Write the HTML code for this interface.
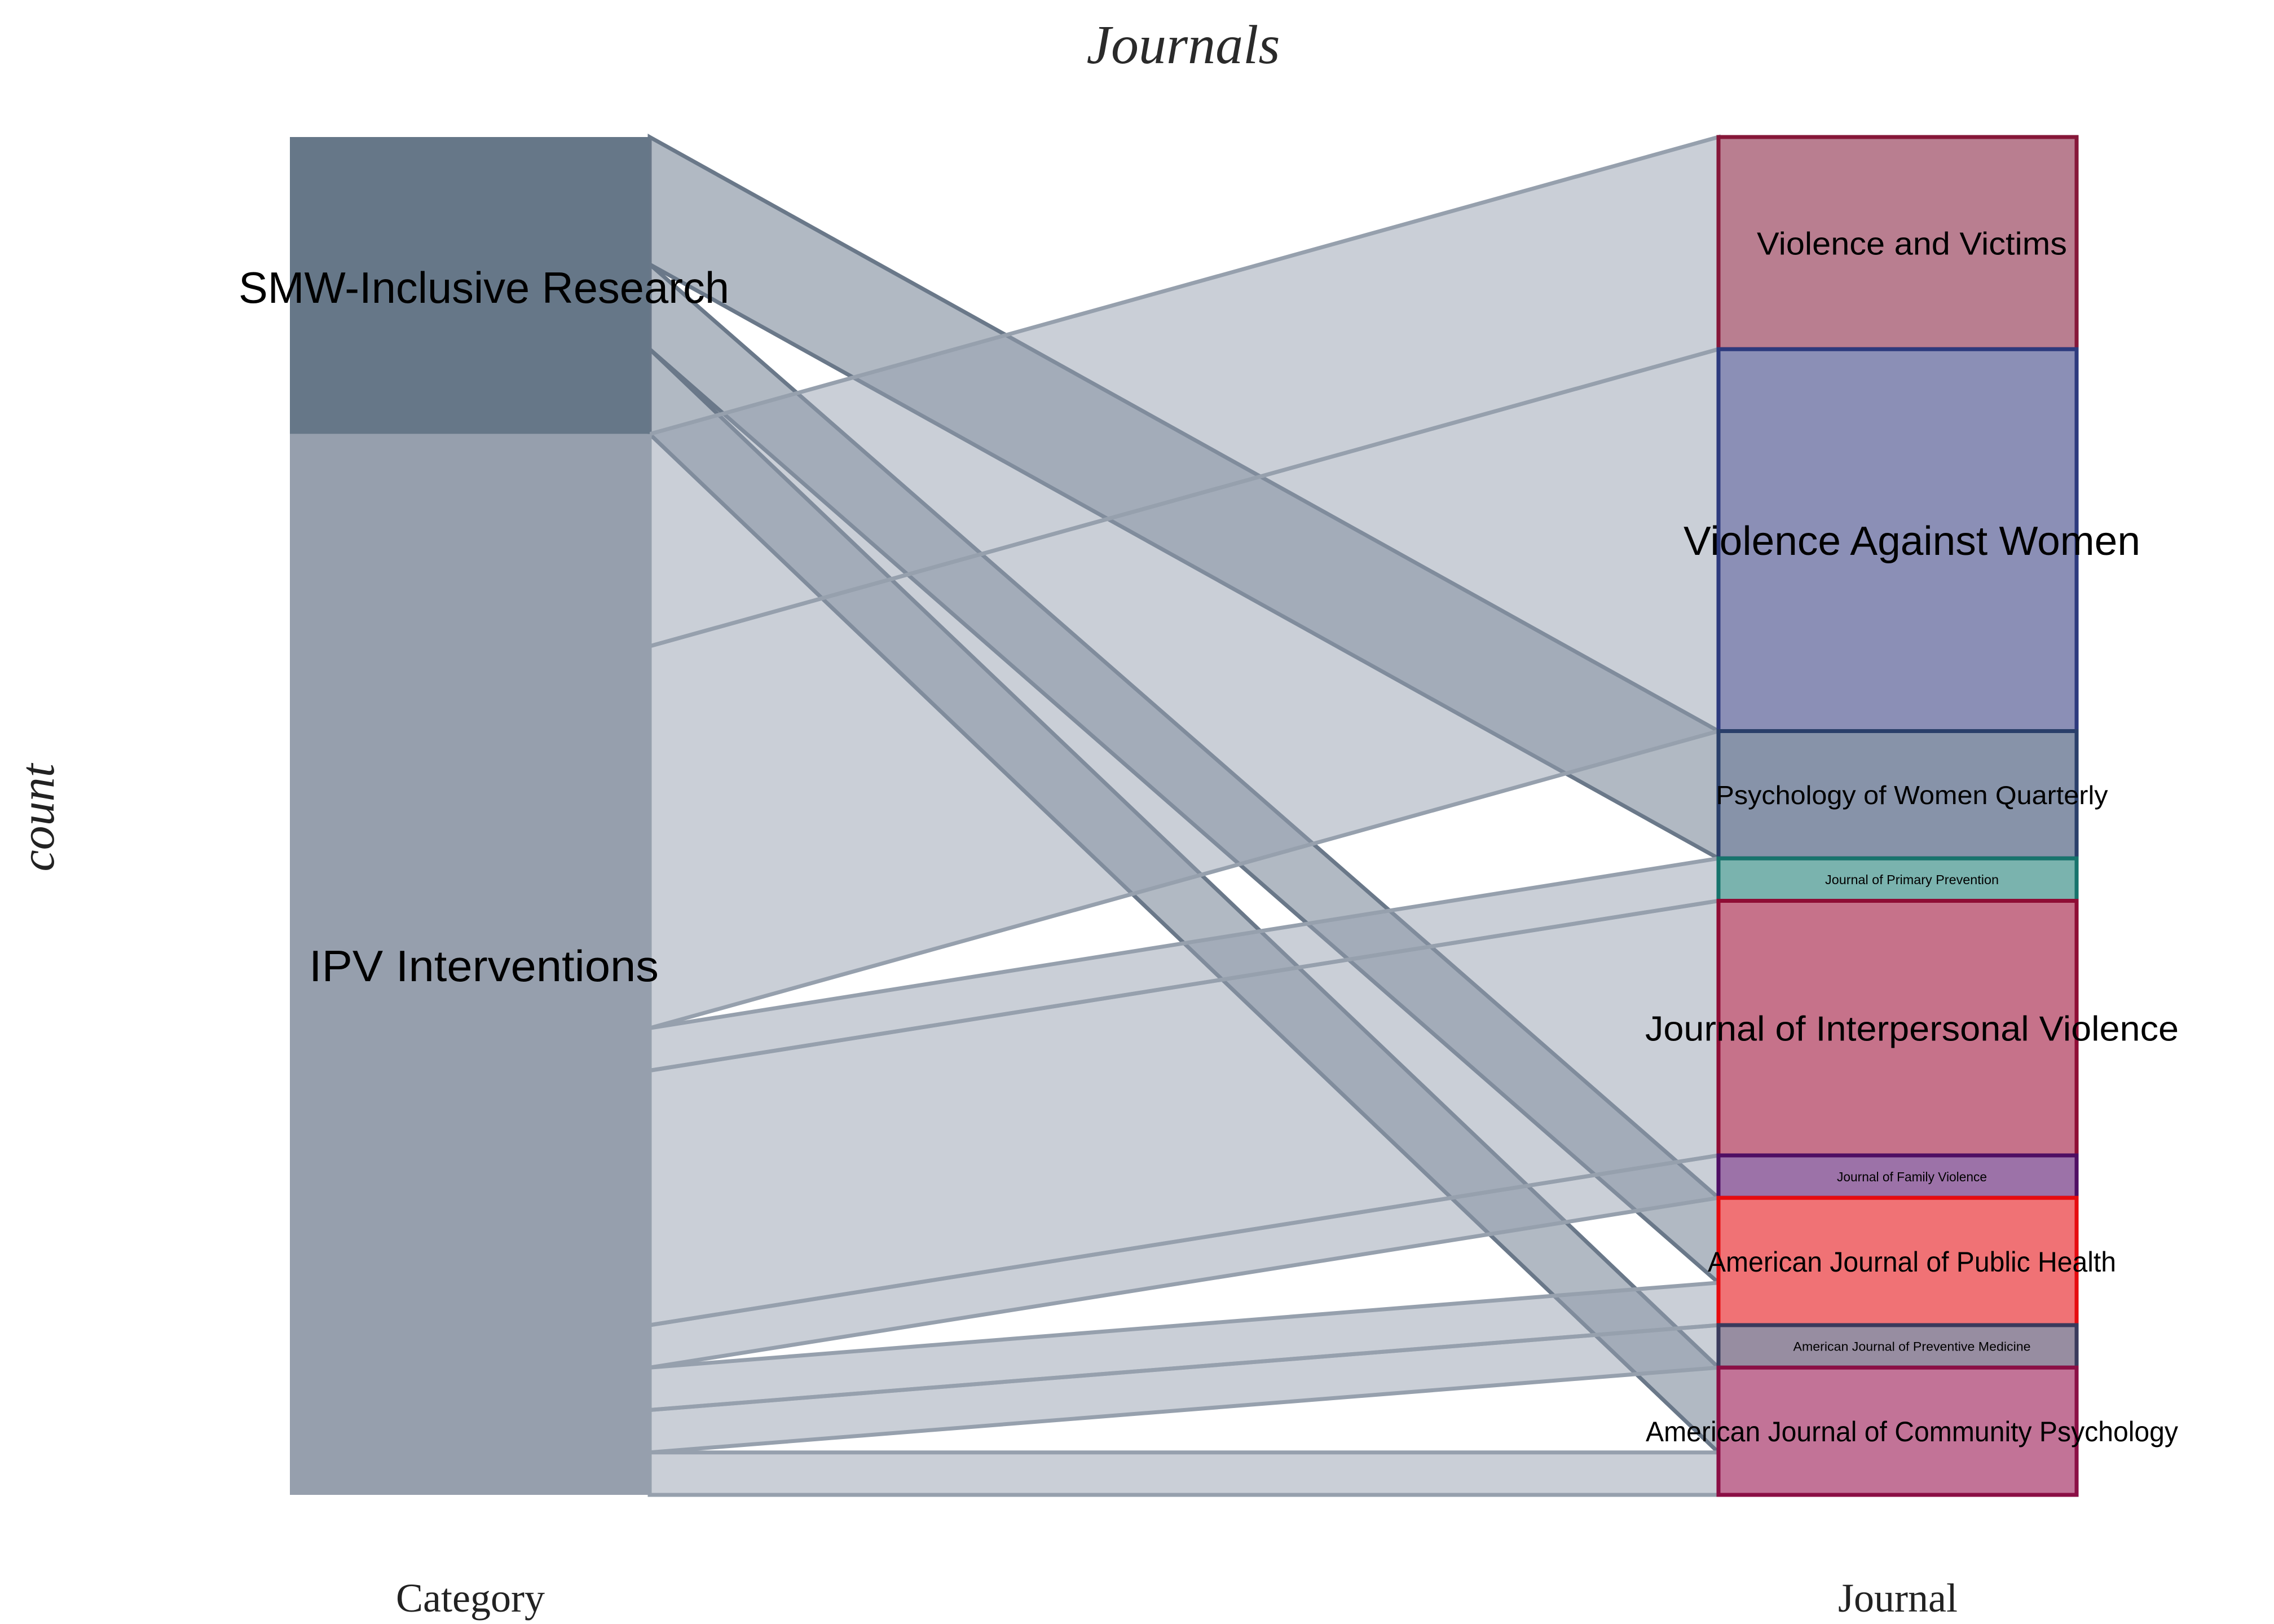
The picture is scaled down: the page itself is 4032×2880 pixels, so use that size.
<!DOCTYPE html>
<html><head><meta charset="utf-8"><style>
html,body{margin:0;padding:0;background:#fff;}
svg{display:block;}
</style></head><body>
<svg id="chart" width="4032" height="2880" viewBox="0 0 4032 2880" xmlns="http://www.w3.org/2000/svg">
<text x="2098" y="112" text-anchor="middle" font-family="Liberation Serif, serif" font-style="italic" font-size="98" fill="#2a2a2a">Journals</text>
<text transform="translate(95,1450) rotate(-90)" text-anchor="middle" font-family="Liberation Serif, serif" font-style="italic" font-size="86" fill="#222">count</text>
<text x="834" y="2858" text-anchor="middle" font-family="Liberation Serif, serif" font-size="72" fill="#222">Category</text>
<text x="3365" y="2858" text-anchor="middle" font-family="Liberation Serif, serif" font-size="72" fill="#222">Journal</text>
<g id="links"></g>
<g id="nodes"></g>
<g id="labels"></g>
</svg>
<script>
const sources = ["SMW-Inclusive Research", "IPV Interventions"];
const targets = ["Violence and Victims","Violence Against Women","Psychology of Women Quarterly","Journal of Primary Prevention","Journal of Interpersonal Violence","Journal of Family Violence","American Journal of Public Health","American Journal of Preventive Medicine","American Journal of Community Psychology"];
const smwCounts = [0,0,3,0,0,0,2,0,2];
const ipvCounts = [5,9,0,1,6,1,1,1,1];

const NS = "http://www.w3.org/2000/svg";
const gL = document.getElementById('links'), gN = document.getElementById('nodes'), gT = document.getElementById('labels');
const TOP = 243, BOTTOM = 2651, LX0 = 514, LX1 = 1152, RX0 = 3047, RX1 = 3682;
const total = smwCounts.reduce((a,b)=>a+b,0) + ipvCounts.reduce((a,b)=>a+b,0);
const unit = (BOTTOM - TOP) / total;
function y(v){ return TOP + v * unit; }

const srcFill = ["#667788","#969fad"];
const tFill = ["#b97e90","#8b8fb6","#8793a9","#7ab3ae","#c6728a","#9c72a8","#f07275","#978da1","#c27397"];
const tStroke = ["#861739","#2d3a7d","#2a3f6a","#17736c","#8f0d35","#4f0e63","#e60b0f","#3a3a5c","#8b0f45"];
const tFont = [57,72,46,23,62,23,50,22,50];
const tWidth = [550,810,695,308,946,266,724,421,944];

const srcData = [smwCounts, ipvCounts];
const srcTot = srcData.map(a=>a.reduce((s,b)=>s+b,0));
const tgtTot = targets.map((t,i)=>smwCounts[i]+ipvCounts[i]);
const srcStart = [0, srcTot[0]];
const tgtStart = []; let acc = 0;
tgtTot.forEach(v=>{ tgtStart.push(acc); acc += v; });

const srcOff = [0,0];
const tgtOff = tgtTot.map(()=>0);
const linkFill = ["rgba(100,116,135,0.5)","rgba(150,160,175,0.5)"];
const linkStroke = ["#6a7889","#96a0ad"];
for (let s=0; s<2; s++) {
  for (let t=0; t<targets.length; t++) {
    const v = srcData[s][t];
    if (!v) continue;
    const ly0 = y(srcStart[s]+srcOff[s]), ly1 = y(srcStart[s]+srcOff[s]+v);
    const ry0 = y(tgtStart[t]+tgtOff[t]), ry1 = y(tgtStart[t]+tgtOff[t]+v);
    srcOff[s]+=v; tgtOff[t]+=v;
    const p = document.createElementNS(NS,'path');
    p.setAttribute('d',`M${LX1},${ly0} L${RX0},${ry0} L${RX0},${ry1} L${LX1},${ly1} Z`);
    p.setAttribute('fill',linkFill[s]);
    p.setAttribute('stroke',linkStroke[s]);
    p.setAttribute('stroke-width','7');
    
    
    gL.appendChild(p);
  }
}
for (let s=0; s<2; s++) {
  const r = document.createElementNS(NS,'rect');
  r.setAttribute('x',LX0); r.setAttribute('y',y(srcStart[s]));
  r.setAttribute('width',LX1-LX0); r.setAttribute('height',srcTot[s]*unit);
  r.setAttribute('fill',srcFill[s]);
  
  
  gN.appendChild(r);
  const tx = document.createElementNS(NS,'text');
  tx.setAttribute('x',(LX0+LX1)/2+25);
  tx.setAttribute('y',s===0 ? 537 : 1740);
  tx.setAttribute('text-anchor','middle');
  tx.setAttribute('font-family','Liberation Sans, DejaVu Sans, sans-serif');
  tx.setAttribute('font-size','78');
  tx.setAttribute('textLength', s===0?870:620);
  tx.setAttribute('lengthAdjust','spacingAndGlyphs');
  tx.textContent = sources[s];
  
  
  gT.appendChild(tx);
}
for (let t=0; t<targets.length; t++) {
  const r = document.createElementNS(NS,'rect');
  r.setAttribute('x',RX0); r.setAttribute('y',y(tgtStart[t]));
  r.setAttribute('width',RX1-RX0); r.setAttribute('height',tgtTot[t]*unit);
  r.setAttribute('fill',tFill[t]); r.setAttribute('stroke',tStroke[t]); r.setAttribute('stroke-width','7');
  
  
  gN.appendChild(r);
  const cy = y(tgtStart[t] + tgtTot[t]/2);
  const tx = document.createElementNS(NS,'text');
  tx.setAttribute('x', 3390);
  tx.setAttribute('y', cy + tFont[t]*0.36);
  tx.setAttribute('text-anchor','middle');
  tx.setAttribute('font-family','Liberation Sans, DejaVu Sans, sans-serif');
  tx.setAttribute('font-size', tFont[t]);
  tx.setAttribute('textLength', tWidth[t]);
  tx.setAttribute('lengthAdjust','spacingAndGlyphs');
  tx.textContent = targets[t];
  
  
  gT.appendChild(tx);
}
</script>
</body></html>
